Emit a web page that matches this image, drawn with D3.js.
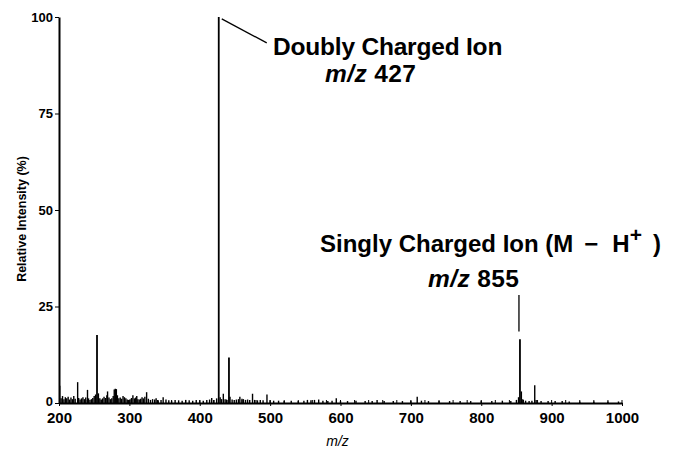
<!DOCTYPE html>
<html>
<head>
<meta charset="utf-8">
<script src="https://cdn.jsdelivr.net/npm/d3@7"></script>
<style>
  body { margin: 0; background: #fff; }
  text { font-family: "Liberation Sans", Arial, Helvetica, sans-serif; fill: #000; }
</style>
</head>
<body>
<svg id="chart"></svg>
<script>
const width = 676;
const height = 449;

// peak list (m/z, relative intensity %)
const mzValues = [201, 203, 205, 207, 209, 211, 213, 215, 217, 219, 221, 223, 226.5, 228, 230, 232, 234, 236, 238, 240.5,
  242, 244, 246, 248, 250, 252, 254, 256, 258, 260, 262, 264, 266, 268, 269, 271, 273, 275, 277, 278.5,
  280, 281.5, 283, 285, 287, 289, 291, 293, 295, 297, 299, 301, 303, 305, 307, 309, 310.5, 312, 314, 316,
  318, 320, 322, 324.5, 327, 330, 333, 336, 338, 341, 345, 348, 352, 356, 360, 365, 370, 375, 380, 385,
  390, 395, 400, 405, 410, 414, 417, 420, 424, 427, 429, 431, 433.5, 436, 438, 441.5, 443, 446, 449, 452,
  455, 457, 460, 462, 465, 468, 471, 475, 478, 482, 486, 490, 495.5, 500, 505, 512, 520, 530, 540, 548,
  553, 558, 563, 569, 575, 582, 588, 594, 600, 610, 622, 635, 645, 652, 662, 675, 688, 700, 709, 715,
  725, 740, 755, 770, 785, 800, 815, 830, 842, 850, 853, 855, 857, 859, 863, 868, 872, 876, 878, 885,
  895, 905, 915, 925, 940, 960, 980, 995];
const intensities = [4.5, 1.2, 1.8, 1.0, 1.5, 1.2, 1.6, 0.9, 1.4, 1.0, 1.8, 1.1, 5.4, 1.3, 0.9, 1.2, 1.5, 1.0, 1.4, 3.4,
  1.2, 0.8, 1.0, 1.3, 1.8, 2.2, 17.6, 2.5, 1.2, 0.9, 1.2, 1.6, 1.3, 2.0, 3.0, 1.4, 1.0, 1.2, 1.8, 3.5,
  3.7, 3.6, 2.0, 1.2, 1.4, 1.1, 1.8, 1.5, 1.2, 0.9, 0.8, 1.0, 1.3, 2.0, 1.2, 1.4, 1.8, 1.0, 0.9, 1.1,
  1.5, 1.2, 1.6, 2.8, 1.1, 0.8, 1.0, 0.9, 1.2, 0.7, 0.8, 1.5, 0.9, 0.7, 0.6, 0.8, 0.7, 0.6, 0.8, 0.7,
  0.6, 0.8, 0.7, 0.6, 0.8, 0.9, 1.3, 0.8, 1.2, 100, 1.5, 1.0, 2.4, 1.0, 0.9, 11.8, 1.6, 0.9, 0.8, 0.9,
  1.0, 1.6, 1.1, 1.0, 0.8, 0.9, 0.8, 2.4, 0.8, 0.7, 0.8, 0.7, 2.2, 0.7, 0.6, 0.6, 0.5, 0.6, 0.5, 0.6,
  0.8, 0.7, 0.8, 0.9, 0.6, 0.5, 0.6, 1.2, 0.5, 0.5, 0.6, 0.5, 0.5, 0.8, 0.5, 0.5, 0.5, 0.6, 1.6, 0.6,
  0.5, 0.5, 0.5, 0.5, 0.5, 0.6, 0.5, 0.6, 0.5, 0.8, 1.5, 16.5, 3.0, 1.0, 0.6, 0.5, 0.6, 4.6, 0.8, 0.5,
  0.5, 0.5, 0.5, 0.4, 0.4, 0.4, 0.4, 0.4];

const xTicks = [200, 300, 400, 500, 600, 700, 800, 900, 1000];
const yTicks = [0, 25, 50, 75, 100];

const margin = { top: 17, right: 54, bottom: 46, left: 59 };

const svg = d3.select("#chart").attr("width", width).attr("height", height);

const x = d3.scaleLinear().domain([200, 1000]).range([margin.left, width - margin.right]);
const y = d3.scaleLinear().domain([0, 100]).range([height - margin.bottom, margin.top]);

// 峰
const peaks = mzValues.map((mz, i) => ({ mz: mz, value: intensities[i] }));
svg.append("g")
  .selectAll("line")
  .data(peaks)
  .enter()
  .append("line")
  .attr("x1", d => x(d.mz))
  .attr("x2", d => x(d.mz))
  .attr("y1", y(0))
  .attr("y2", d => y(d.value))
  .attr("stroke", "#000")
  .attr("stroke-width", d => d.value > 10 ? 1.8 : 1.4);

// x axis
const xAxis = svg.append("g")
  .attr("transform", `translate(0,${y(0)})`)
  .call(d3.axisBottom(x).tickValues(xTicks).tickFormat(d3.format("d"))
    .tickSize(3).tickSizeOuter(0).tickPadding(6));
xAxis.select(".domain").attr("stroke-width", 2);
xAxis.selectAll("text")
  .style("font-size", "15px")
  .style("font-weight", "bold")
  .style("font-family", "Liberation Sans, Arial, sans-serif");

// minor ticks pointing up
svg.append("g")
  .selectAll("line")
  .data(d3.range(220, 1001, 20))
  .enter()
  .append("line")
  .attr("x1", d => x(d))
  .attr("x2", d => x(d))
  .attr("y1", y(0))
  .attr("y2", y(0) - 3)
  .attr("stroke", "#000")
  .attr("stroke-width", 1);

// y axis
const yAxis = svg.append("g")
  .attr("transform", `translate(${x(200)},0)`)
  .call(d3.axisLeft(y).tickValues(yTicks).tickSize(4).tickSizeOuter(0).tickPadding(2));
yAxis.select(".domain").attr("stroke-width", 2);
yAxis.selectAll("text")
  .style("font-size", "13px")
  .style("font-weight", "bold")
  .style("font-family", "Liberation Sans, Arial, sans-serif");
// keep the "0" clear of the "200" below it
yAxis.selectAll("text").filter(d => d === 0).attr("dy", "0.2em");

// axis titles
svg.append("text")
  .attr("x", (x(200) + x(1000)) / 2 - 3)
  .attr("y", 446)
  .attr("text-anchor", "middle")
  .style("font-size", "14px")
  .style("font-style", "italic")
  .text("m/z");

svg.append("text")
  .attr("transform", `translate(26,${(y(0) + y(100)) / 2 + 9}) rotate(-90)`)
  .attr("text-anchor", "middle")
  .style("font-size", "12.5px")
  .style("font-weight", "bold")
  .text("Relative Intensity (%)");

// 注释
const leaders = svg.append("g").attr("stroke", "#000").attr("stroke-width", 1.3);
leaders.append("line")
  .attr("x1", x(427) + 3).attr("y1", y(99.5))
  .attr("x2", x(427) + 48).attr("y2", y(93.3));
leaders.append("line")
  .attr("x1", x(855) - 1).attr("y1", y(28))
  .attr("x2", x(855) - 1).attr("y2", y(18.5));

svg.append("text")
  .attr("x", 273).attr("y", 55)
  .style("font-size", "24.5px")
  .style("font-weight", "bold")
  .style("letter-spacing", "-0.2px")
  .text("Doubly Charged Ion");

const t2 = svg.append("text")
  .attr("x", 325).attr("y", 82)
  .style("font-size", "24.5px")
  .style("font-weight", "bold")
  .style("letter-spacing", "0.4px");
t2.append("tspan").style("font-style", "italic").text("m/z");
t2.append("tspan").text(" 427");

const t3 = svg.append("text")
  .attr("x", 320).attr("y", 252)
  .style("font-size", "24px")
  .style("font-weight", "bold");
t3.append("tspan").text("Singly Charged Ion (M");
t3.append("tspan").attr("dx", 11).text("\u2212");
t3.append("tspan").attr("dx", 14).text("H");
t3.append("tspan").attr("dy", -10).style("font-size", "21px").text("+");
t3.append("tspan").attr("dy", 10).attr("dx", 11).text(")");

const t4 = svg.append("text")
  .attr("x", 428).attr("y", 287)
  .style("font-size", "24.5px")
  .style("font-weight", "bold")
  .style("letter-spacing", "0.4px");
t4.append("tspan").style("font-style", "italic").text("m/z");
t4.append("tspan").text(" 855");
</script>
</body>
</html>
